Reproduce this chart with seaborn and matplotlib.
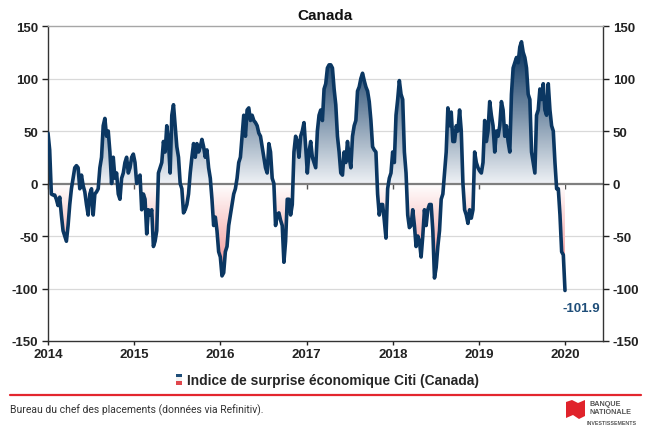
import numpy as np
import pandas as pd
import matplotlib
matplotlib.use("Agg")
import matplotlib.pyplot as plt
import matplotlib.dates as mdates
from matplotlib.colors import LinearSegmentedColormap
from matplotlib.path import Path
from matplotlib.patches import PathPatch, Rectangle, Patch, Polygon
from matplotlib.legend_handler import HandlerBase
from matplotlib.lines import Line2D
import seaborn as sns

# ---------------- data (weekly readings, Citi Economic Surprise Index - Canada) ----------------
vals_2014 = [48, 32, -10, -11, -11, -15, -21, -13, -30, -45, -50, -55, -40, -20, -5, 5,
             15, 17, 15, -5, 8, -2, -8, -20, -30, -10, -5, -30, -10, -8, -5, 15, 25, 55,
             62, 45, 50, 30, 0, 25, 5, 10, -10, -15, 5, 10, 20, 25, 10, 15, 25, 28]
vals_2015 = [20, 0, 5, 8, -25, -10, -15, -48, -25, -30, -25, -60, -55, -45, 10, 15, 20,
             40, 30, 55, 40, 10, 65, 75, 55, 35, 25, 0, -5, -28, -25, -20, -10, 10, 25,
             38, 25, 38, 30, 35, 42, 35, 25, 32, 15, 5, -15, -40, -32, -45, -65, -70]
vals_2016 = [-88, -85, -65, -60, -40, -30, -20, -10, -5, 5, 20, 25, 45, 65, 45, 70, 72,
             60, 65, 60, 58, 55, 48, 45, 35, 25, 15, 10, 38, 30, 5, 0, -40, -30, -28,
             -35, -40, -75, -55, -15, -15, -30, -20, 30, 45, 40, 25, 45, 50, 58, 35, 10]
vals_2017 = [30, 40, 25, 20, 15, 50, 65, 70, 60, 90, 95, 110, 113, 113, 110, 90, 75, 45,
             30, 10, 8, 30, 20, 40, 25, 15, 45, 55, 60, 88, 92, 100, 105, 98, 92, 88, 78,
             60, 35, 32, 30, -10, -30, -20, -20, -35, -52, -5, 5, 10, 30]
vals_2018 = [20, 65, 80, 98, 85, 80, 30, 10, -30, -42, -40, -25, -40, -60, -50, -55, -70,
             -50, -25, -40, -25, -20, -20, -45, -90, -80, -60, -45, -15, -10, 10, 30, 72,
             55, 68, 40, 40, 55, 50, 70, 50, 0, -25, -30, -38, -25, -33, -25, 30, 20, 15, 12]
vals_2019 = [10, 20, 60, 40, 50, 78, 65, 55, 30, 50, 45, 55, 78, 70, 45, 55, 40, 30, 85,
             110, 115, 120, 115, 130, 135, 125, 120, 110, 85, 80, 30, 20, 10, 65, 70, 90,
             80, 95, 70, 65, 95, 70, 55, 50, 20, -5, -5, -30, -65, -68, -101.9]

series_label = "Indice de surprise économique Citi (Canada)"
title_text = "Canada"
source_text = "Bureau du chef des placements (données via Refinitiv)."
year_ticks = [2014, 2015, 2016, 2017, 2018, 2019, 2020]
y_ticks = [-150, -100, -50, 0, 50, 100, 150]

values = np.array(vals_2014 + vals_2015 + vals_2016 + vals_2017 + vals_2018 + vals_2019, dtype=float)
dates = pd.date_range("2014-01-01", "2019-12-31", periods=len(values))
df = pd.DataFrame({"date": dates, "value": values})

# ---------------- style ----------------
sns.set_style("white")
plt.rcParams["font.family"] = ["Liberation Sans", "DejaVu Sans"]
plt.rcParams["axes.unicode_minus"] = False

LINE = "#0b3762"
W, H = 654, 431
fig = plt.figure(figsize=(W / 100, H / 100), dpi=100)
ax = fig.add_axes([48 / W, 1 - 342 / H, (603 - 48) / W, (342 - 27) / H])

x0 = mdates.date2num(pd.Timestamp("2014-01-01"))
x1 = mdates.date2num(pd.Timestamp("2020-06-09"))

# gridlines
for g in [-100, -50, 50, 100]:
    ax.axhline(g, color="#d9d9d9", lw=0.9, zorder=0.5)

# gradient fill clipped to the area between series and zero
cmap = LinearSegmentedColormap.from_list(
    "grad",
    [(0.0, "#ec6b6b"), (50 / 300, "#f07f7f"), (0.5, "#ffffff"), (0.501, "#eef1f5"),
     (280 / 300, "#0a3560"), (1.0, "#082f57")])
grad = np.linspace(-150, 150, 600).reshape(-1, 1)
im = ax.imshow(grad, cmap=cmap, vmin=-150, vmax=150, origin="lower", aspect="auto",
               extent=[x0, x1, -150, 150], zorder=1, interpolation="bilinear")
coll = ax.fill_between(mdates.date2num(df["date"]), df["value"], 0, color="none", lw=0)
clip_path = Path.make_compound_path(*coll.get_paths())
clip_patch = PathPatch(clip_path, transform=ax.transData, facecolor="none", edgecolor="none")
ax.add_patch(clip_patch)
im.set_clip_path(clip_patch)

ax.axhline(0, color="#7f7f7f", lw=1.6, zorder=2)

sns.lineplot(data=df, x="date", y="value", ax=ax, color=LINE, linewidth=2.6, zorder=3,
             legend=False)

ax.set_xlim(x0, x1)
ax.set_ylim(-150, 150)
ax.set_xlabel("")
ax.set_ylabel("")
ax.set_yticks(y_ticks)
ax.set_yticklabels([str(v) for v in y_ticks])
ax.set_xticks([mdates.date2num(pd.Timestamp(f"{y}-01-01")) for y in year_ticks])
ax.set_xticklabels([str(y) for y in year_ticks])
ax.tick_params(axis="both", which="both", labelsize=9.5, colors="#222222", length=4,
               width=1, direction="out", pad=2)
ax.tick_params(axis="y", left=True, right=True, labelleft=True, labelright=True, pad=3)
ax.tick_params(axis="x", bottom=True, length=3)
for lab in ax.get_xticklabels() + ax.get_yticklabels():
    lab.set_fontweight("bold")
for lab in ax.yaxis.get_ticklabels(which="both"):
    lab.set_fontweight("bold")
for side in ["left", "right", "bottom"]:
    ax.spines[side].set_color("#333333")
    ax.spines[side].set_linewidth(1.0)
ax.spines["top"].set_color("#a6a6a6")
ax.spines["top"].set_linewidth(1.0)

# small year ticks just below the zero line
sec = ax.secondary_xaxis(0.5)
sec.set_xticks([mdates.date2num(pd.Timestamp(f"{y}-01-01")) for y in year_ticks])
sec.set_xticklabels([""] * len(year_ticks))
sec.tick_params(axis="x", length=4, width=1, colors="#555555", direction="in")
sec.spines["bottom"].set_visible(False)
sec.spines["top"].set_visible(False)

# end label
ax.annotate(f"{values[-1]:.1f}", xy=(mdates.date2num(dates[-1]), values[-1]),
            xytext=(-2, -8), textcoords="offset points", ha="left", va="top",
            fontsize=9.5, fontweight="bold", color="#1f4e79", zorder=4)

ax.set_title(title_text, fontsize=11, fontweight="bold", pad=5, color="#111111")

# legend with flag-like marker
class FlagHandler(HandlerBase):
    def create_artists(self, legend, orig_handle, xdescent, ydescent, width, height,
                       fontsize, trans):
        h3 = height / 3.0
        arts = []
        for i, c in enumerate(["#e0474c", "#f2f2f2", "#1f4e79"]):
            arts.append(Rectangle((-xdescent, -ydescent + i * h3), width, h3,
                                  facecolor=c, edgecolor="none", transform=trans))
        return arts

fig.legend(handles=[Patch()], labels=[series_label], handler_map={Patch: FlagHandler()},
           loc="center", bbox_to_anchor=(327 / W, 1 - 381 / H), frameon=False,
           prop={"weight": "bold", "size": 9.9}, handlelength=0.5, handleheight=0.85,
           handletextpad=0.3, borderaxespad=0, borderpad=0)

# red rule and footer
fig.add_artist(Line2D([10 / W, 641 / W], [1 - 396 / H, 1 - 396 / H], color="#e3262e", lw=1.6))
fig.text(10 / W, 1 - 410 / H, source_text, fontsize=7.5, color="#333333", va="center",
         ha="left", family=["Roboto", "DejaVu Sans"])

# logo
flag = Polygon([(566 / W, 1 - 403 / H), (572 / W, 1 - 401 / H), (578 / W, 1 - 404 / H),
                (585 / W, 1 - 401 / H), (585 / W, 1 - 417 / H), (579 / W, 1 - 420 / H),
                (573 / W, 1 - 416 / H), (566 / W, 1 - 419 / H)],
               closed=True, facecolor="#e0232b", edgecolor="none", transform=fig.transFigure)
fig.add_artist(flag)
fig.text(589 / W, 1 - 405 / H, "BANQUE", fontsize=5.2, fontweight="bold", color="#555555",
         va="center", ha="left")
fig.text(589 / W, 1 - 413 / H, "NATIONALE", fontsize=5.2, fontweight="bold", color="#555555",
         va="center", ha="left")
fig.text(587 / W, 1 - 424 / H, "INVESTISSEMENTS", fontsize=3.8, fontweight="bold",
         color="#555555", va="center", ha="left")

fig.savefig("out.png", dpi=100)
